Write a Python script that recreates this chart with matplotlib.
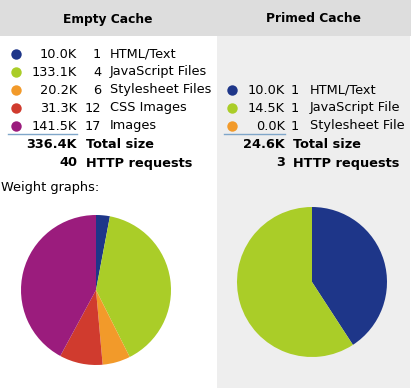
import matplotlib
matplotlib.use('Agg')
import matplotlib.pyplot as plt
from matplotlib.patches import Rectangle

# Data
colors = ['#1e3689', '#aacd28', '#f29a2a', '#d03b2e', '#9b1c7d']

empty_sizes = [10.0, 133.1, 20.2, 31.3, 141.5]
empty_counts = [1, 4, 6, 12, 17]
empty_labels = ['HTML/Text', 'JavaScript Files', 'Stylesheet Files', 'CSS Images', 'Images']
empty_total = '336.4K'
empty_requests = 40

primed_sizes = [10.0, 14.5, 0.0]
primed_counts = [1, 1, 1]
primed_labels = ['HTML/Text', 'JavaScript File', 'Stylesheet File']
primed_total = '24.6K'
primed_requests = 3

W, H = 411, 388
fig = plt.figure(figsize=(W / 100, H / 100), dpi=100)
fig.patch.set_facecolor('white')
ax = fig.add_axes([0, 0, 1, 1])
ax.set_xlim(0, W)
ax.set_ylim(H, 0)
ax.axis('off')

# backgrounds
ax.add_patch(Rectangle((217, 36), 193, H - 36, color='#eeeeee', lw=0))
ax.add_patch(Rectangle((0, 0), W, 36, color='#dddddd', lw=0))

fs = 9.3
ax.text(108, 19, 'Empty Cache', ha='center', va='center', fontsize=8.8, fontweight='bold')
ax.text(313, 19, 'Primed Cache', ha='center', va='center', fontsize=8.8, fontweight='bold')


def table(x_dot, x_val, x_cnt, x_lab, x_tot, y0, sizes, counts, labels, total, requests):
    step = 18
    for i, (s, c, l) in enumerate(zip(sizes, counts, labels)):
        y = y0 + i * step
        ax.plot(x_dot, y, 'o', color=colors[i], ms=7.5, mew=0)
        ax.text(x_val, y, '%.1fK' % s, ha='right', va='center', fontsize=fs)
        ax.text(x_cnt, y, str(c), ha='right', va='center', fontsize=fs)
        ax.text(x_lab, y, l, ha='left', va='center', fontsize=fs)
    yl = y0 + (len(sizes) - 1) * step + 8
    ax.plot([x_dot - 8, x_val], [yl, yl], color='#7fa6c9', lw=1)
    ax.text(x_val, yl + 11, total, ha='right', va='center', fontsize=fs, fontweight='bold')
    ax.text(x_tot, yl + 11, 'Total size', ha='left', va='center', fontsize=fs, fontweight='bold')
    ax.text(x_val, yl + 29, str(requests), ha='right', va='center', fontsize=fs, fontweight='bold')
    ax.text(x_tot, yl + 29, 'HTTP requests', ha='left', va='center', fontsize=fs, fontweight='bold')


table(16, 77, 101, 110, 86, 54, empty_sizes, empty_counts, empty_labels,
      empty_total, empty_requests)
table(232, 285, 299, 310, 293, 90, primed_sizes, primed_counts, primed_labels,
      primed_total, primed_requests)

ax.text(1, 187, 'Weight graphs:', ha='left', va='center', fontsize=fs)

# pies
r = 75
for cx, cy, sizes in [(96, 290, empty_sizes), (312, 282, primed_sizes)]:
    pax = fig.add_axes([(cx - r) / W, 1 - (cy + r) / H, 2 * r / W, 2 * r / H])
    pax.pie(sizes, colors=colors[:len(sizes)], startangle=90, counterclock=False,
            wedgeprops={'linewidth': 0})
    pax.set_xlim(-1, 1)
    pax.set_ylim(-1, 1)
    pax.set_aspect('equal')
    pax.axis('off')

fig.savefig('out.png', dpi=100)
